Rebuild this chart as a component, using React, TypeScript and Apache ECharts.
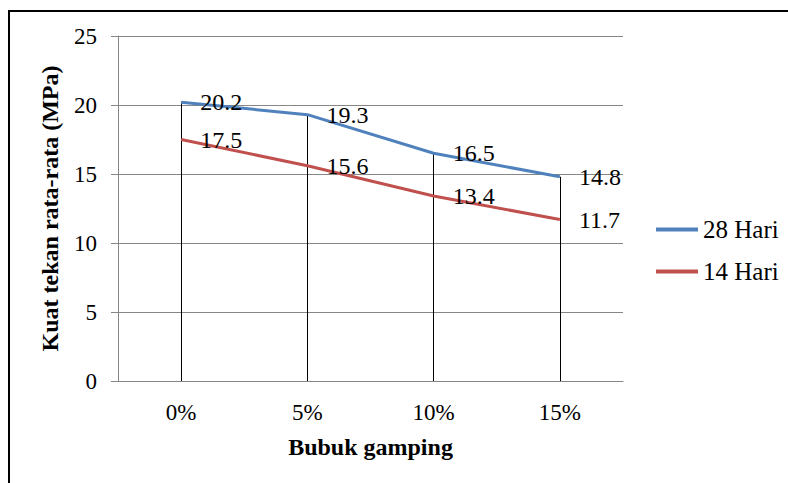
import React, { useEffect, useRef } from "react";
import * as echarts from "echarts";

const categories = ["0%", "5%", "10%", "15%"];
const hari28 = [20.2, 19.3, 16.5, 14.8];
const hari14 = [17.5, 15.6, 13.4, 11.7];
const yTicks = { min: 0, max: 25, interval: 5 };

const FONT = "'Liberation Serif', 'Times New Roman', serif";

export default function App() {
  const ref = useRef<HTMLDivElement>(null);
  useEffect(() => {
    if (!ref.current) return;
    const chart = echarts.init(ref.current, null, { renderer: "svg" });
    const labelStyle = {
      show: true,
      position: "right" as const,
      distance: 19,
      color: "#000",
      fontFamily: FONT,
      fontSize: 24,
    };
    chart.setOption({
      animation: false,
      backgroundColor: "#fff",
      textStyle: { fontFamily: FONT },
      graphic: [
        {
          type: "rect",
          shape: { x: 9, y: 11, width: 820, height: 520 },
          style: { fill: "none", stroke: "#000", lineWidth: 2 },
          silent: true,
        },
      ],
      grid: { left: 118, right: 165, top: 36, bottom: 102 },
      legend: {
        orient: "vertical",
        left: 651,
        top: 212,
        icon: "rect",
        itemWidth: 42,
        itemHeight: 4,
        itemGap: 17,
        textStyle: { fontFamily: FONT, fontSize: 25, color: "#000" },
        data: ["28 Hari", "14 Hari"],
      },
      xAxis: {
        type: "category",
        data: categories,
        boundaryGap: true,
        name: "Bubuk gamping",
        nameLocation: "middle",
        nameGap: 54,
        nameTextStyle: { fontFamily: FONT, fontSize: 24, fontWeight: "bold", color: "#000" },
        axisLine: { show: true, lineStyle: { color: "#868686", width: 1 } },
        axisTick: { show: false },
        axisLabel: { fontFamily: FONT, fontSize: 23, color: "#000", margin: 20 },
        splitLine: { show: false },
      },
      yAxis: {
        type: "value",
        min: yTicks.min,
        max: yTicks.max,
        interval: yTicks.interval,
        name: "Kuat tekan rata-rata (MPa)",
        nameLocation: "middle",
        nameGap: 56,
        nameTextStyle: { fontFamily: FONT, fontSize: 24, fontWeight: "bold", color: "#000" },
        axisLine: { show: true, lineStyle: { color: "#868686", width: 1 } },
        axisTick: { show: true, length: 7, lineStyle: { color: "#868686" } },
        axisLabel: { fontFamily: FONT, fontSize: 23, color: "#000", margin: 21 },
        splitLine: { show: true, lineStyle: { color: "#868686", width: 1 } },
      },
      series: [
        {
          name: "28 Hari",
          type: "line",
          data: hari28,
          symbol: "circle",
          symbolSize: 0,
          showSymbol: true,
          lineStyle: { color: "#4F81BD", width: 3 },
          itemStyle: { color: "#4F81BD" },
          label: labelStyle,
          z: 3,
          markLine: {
            silent: true,
            symbol: "none",
            label: { show: false },
            lineStyle: { color: "#000", width: 1, type: "solid" },
            data: categories.map((c, i) => [
              { coord: [c, hari28[i]] },
              { coord: [c, 0] },
            ]),
            z: 1,
          },
        },
        {
          name: "14 Hari",
          type: "line",
          data: hari14,
          symbol: "circle",
          symbolSize: 0,
          showSymbol: true,
          lineStyle: { color: "#C0504D", width: 3 },
          itemStyle: { color: "#C0504D" },
          label: labelStyle,
          z: 3,
        },
      ],
    });
    return () => chart.dispose();
  }, []);
  return (
    <div
      ref={ref}
      style={{ position: "fixed", left: 0, top: 0, width: 788, height: 483 }}
    />
  );
}
